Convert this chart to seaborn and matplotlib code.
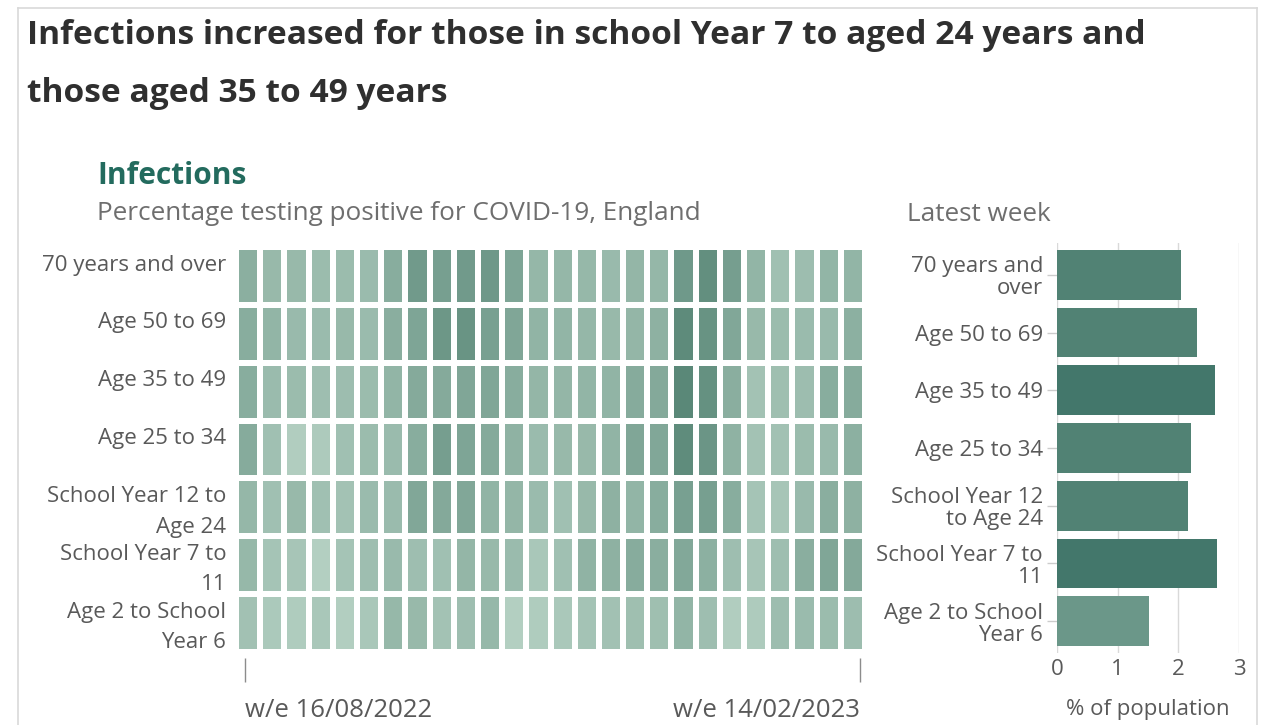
import numpy as np
import pandas as pd
import matplotlib
matplotlib.use("Agg")
import matplotlib.pyplot as plt
from matplotlib.colors import LinearSegmentedColormap
from matplotlib.lines import Line2D
import seaborn as sns

# ---- data ----
heat_labels = ["70 years and over", "Age 50 to 69", "Age 35 to 49", "Age 25 to 34",
               "School Year 12 to\nAge 24", "School Year 7 to\n11", "Age 2 to School\nYear 6"]
bar_labels = ["70 years and\nover", "Age 50 to 69", "Age 35 to 49", "Age 25 to 34",
              "School Year 12\nto Age 24", "School Year 7 to\n11", "Age 2 to School\nYear 6"]
week_ticks = ["w/e 16/08/2022", "w/e 14/02/2023"]

# % testing positive, 26 weeks, one list per age group
pct_70_over = [2.67, 2.21, 2.21, 2.07, 2.07, 2.12, 2.77, 3.65, 3.42, 3.65, 3.74, 3.14, 2.30,
               2.30, 2.26, 2.16, 2.35, 2.30, 3.70, 4.16, 3.47, 2.40, 1.88, 2.02, 2.40, 2.40]
pct_50_69 = [2.77, 2.40, 2.16, 2.12, 2.21, 2.12, 2.72, 3.14, 3.79, 3.93, 3.37, 3.09, 2.44,
             2.40, 2.30, 2.21, 2.35, 2.58, 4.35, 3.98, 3.05, 2.21, 2.07, 2.12, 2.16, 2.63]
pct_35_49 = [2.77, 2.12, 2.07, 1.98, 2.02, 2.07, 2.40, 2.91, 2.91, 3.09, 3.09, 2.77, 2.35,
             2.35, 2.40, 2.44, 2.86, 2.95, 4.49, 4.07, 2.72, 1.79, 1.93, 2.02, 2.77, 2.86]
pct_25_34 = [2.86, 1.88, 1.28, 1.42, 1.88, 2.07, 2.12, 2.77, 3.47, 3.14, 2.91, 2.53, 2.12,
             2.21, 2.21, 2.44, 3.09, 3.05, 4.30, 3.88, 2.53, 1.79, 1.84, 2.07, 2.16, 2.63]
pct_sy12_24 = [2.30, 1.88, 2.21, 1.88, 1.79, 2.12, 2.12, 3.05, 2.95, 3.05, 2.44, 2.35, 2.12,
               1.88, 2.21, 2.58, 2.40, 2.77, 3.37, 3.42, 2.77, 1.70, 1.65, 2.16, 2.72, 2.58]
pct_sy7_11 = [2.26, 1.70, 1.65, 1.19, 1.70, 1.98, 2.16, 1.98, 1.88, 2.35, 2.21, 2.12, 1.56,
              1.88, 2.49, 2.58, 2.81, 2.72, 3.00, 2.63, 1.98, 1.65, 1.98, 2.72, 3.09, 2.95]
pct_age2_sy6 = [1.84, 1.47, 1.33, 1.56, 1.23, 1.56, 2.26, 2.21, 1.79, 1.98, 2.26, 1.19, 1.33,
                1.51, 1.74, 1.84, 1.93, 1.93, 2.40, 1.98, 1.28, 1.37, 2.02, 2.12, 2.07, 2.02]

latest_pct = [2.04, 2.31, 2.60, 2.21, 2.16, 2.64, 1.52]

W, H = 1263, 725
def fx(px): return px / W
def fy(py): return 1 - py / H

plt.rcParams['font.family'] = ['Open Sans', 'DejaVu Sans']
GREY = "#595959"
TICK_FS = 16

fig = plt.figure(figsize=(W / 100, H / 100), dpi=100)

# frame around the card
for xs, ys in [([18, 18], [725, 8]), ([18, 1257], [8, 8]), ([1257, 1257], [8, 725])]:
    fig.add_artist(Line2D([fx(x) for x in xs], [fy(y) for y in ys], color="#d9d9d9", lw=1.2))

fig.text(fx(27), fy(35), "Infections increased for those in school Year 7 to aged 24 years and",
         fontsize=24.1, fontweight='bold', color='#2f2f2f', va='center')
fig.text(fx(27), fy(93), "those aged 35 to 49 years",
         fontsize=24.1, fontweight='bold', color='#2f2f2f', va='center')
fig.text(fx(97), fy(176), "Infections", fontsize=21.5, fontweight='bold', color='#236b5e', va='center')
fig.text(fx(97), fy(213), "Percentage testing positive for COVID-19, England",
         fontsize=18.8, color='#6e6e6e', va='center')
fig.text(fx(907), fy(215), "Latest week", fontsize=18.8, color='#6e6e6e', va='center')

# ---- heatmap ----
heat = pd.DataFrame([pct_70_over, pct_50_69, pct_35_49, pct_25_34,
                     pct_sy12_24, pct_sy7_11, pct_age2_sy6], index=heat_labels)
cmap = LinearSegmentedColormap.from_list("ons_green", ["#b8d3c5", "#5a8878"])

axh = fig.add_axes([fx(236), fy(652), fx(865) - fx(236), fy(247) - fy(652)])
sns.heatmap(heat, cmap=cmap, vmin=1, vmax=4.5, cbar=False, linewidths=3.2,
            linecolor='white', ax=axh)
axh.spines['bottom'].set_position(('outward', 4))
axh.set_yticks(np.arange(len(heat_labels)) + 0.13)
axh.set_yticklabels(heat_labels, va='top', ha='right', fontsize=TICK_FS, color=GREY,
                    linespacing=1.6, rotation=0)
axh.tick_params(axis='y', length=0, pad=7)
axh.set_xticks([0.36, heat.shape[1] - 0.2])
axh.tick_params(axis='x', length=17, width=1, color='#8c8c8c', pad=12)
axh.set_xticklabels(week_ticks, fontsize=18.5, color=GREY, rotation=0)
xl = axh.get_xticklabels()
xl[0].set_ha('left')
xl[1].set_ha('right')
axh.set_xlabel("")
axh.set_ylabel("")

# ---- latest week bars ----
band = pd.cut(latest_pct, [0, 2, 2.5, 10], labels=["low", "mid", "high"])
bars = pd.DataFrame({"group": bar_labels, "pct": latest_pct, "band": band})
palette = {"low": "#6b9789", "mid": "#518274", "high": "#43776b"}

axb = fig.add_axes([fx(1057), fy(653), fx(1239) - fx(1057), fy(243) - fy(653)])
sns.barplot(data=bars, x="pct", y="group", hue="band", palette=palette, dodge=False,
            legend=False, width=0.86, saturation=1, ax=axb)
axb.set_xlim(0, 3)
axb.set_ylim(6.55, -0.55)
axb.set_xticks([0, 1, 2, 3])
axb.grid(axis='x', color='#d9d9d9', lw=1)
axb.set_axisbelow(True)
for s in axb.spines.values():
    s.set_visible(False)
axb.tick_params(axis='y', length=7, width=1, color='#cccccc', labelsize=TICK_FS,
                labelcolor=GREY, pad=3)
axb.tick_params(axis='x', length=0, labelsize=TICK_FS, labelcolor=GREY, pad=4)
for t in axb.get_yticklabels():
    t.set_linespacing(1.05)
axb.set_ylabel("")
axb.set_xlabel("% of population", fontsize=TICK_FS, color=GREY, labelpad=14)

fig.savefig("out.png", dpi=100)
